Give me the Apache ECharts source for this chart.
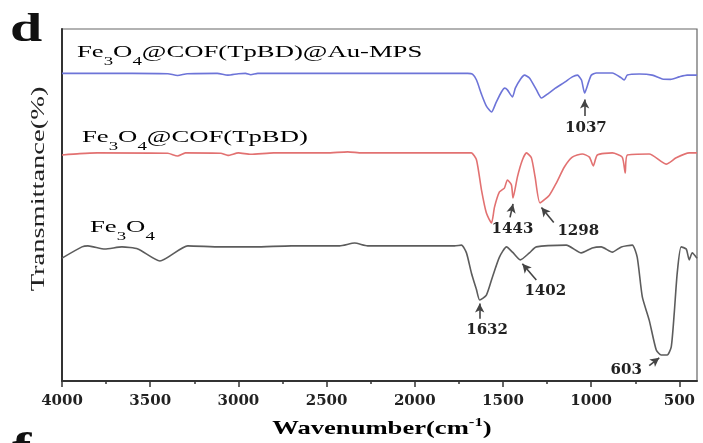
<!DOCTYPE html>
<html>
<head>
<meta charset="utf-8">
<script src="https://cdn.jsdelivr.net/npm/echarts@6/dist/echarts.min.js"></script>
<style>
  html, body { margin: 0; padding: 0; background: #fff; }
  #chart { width: 703px; height: 443px; }
</style>
</head>
<body>
<div id="chart"></div>
<script>
// FT-IR spectra, wavenumber (cm-1) vs. transmittance (stacked, arbitrary offset units)
const majorTicks = [4000, 3500, 3000, 2500, 2000, 1500, 1000, 500];
const minorTicks = [3750, 3250, 2750, 2250, 1750, 1250, 750];

const feCofAu = [
  [4000, 87.4], [3600, 87.4], [3400, 87.3], [3345, 86.8], [3290, 87.3], [3120, 87.4],
  [3060, 86.9], [3000, 87.3], [2960, 87.4], [2930, 87.0], [2890, 87.4], [2500, 87.4],
  [2000, 87.4], [1700, 87.4], [1673, 87.2], [1650, 85.5], [1622, 81.5], [1594, 78.1],
  [1565, 76.4], [1540, 79.0], [1509, 82.1], [1490, 83.2], [1475, 82.7], [1446, 80.7],
  [1430, 83.2], [1400, 85.8], [1378, 86.9], [1350, 86.1], [1310, 82.7], [1282, 80.4],
  [1240, 81.8], [1203, 83.2], [1150, 84.9], [1107, 86.4], [1078, 86.9], [1055, 85.5],
  [1037, 81.8], [1015, 84.9], [999, 86.9], [971, 87.5], [880, 87.5], [829, 86.1],
  [812, 85.5], [795, 86.9], [727, 87.2], [654, 86.9], [597, 85.8], [550, 85.7],
  [501, 86.4], [456, 86.9], [400, 86.9]
];

const feCof = [
  [4000, 64.2], [3900, 64.6], [3800, 64.8], [3400, 64.7], [3345, 63.9], [3300, 64.8],
  [3100, 64.7], [3060, 64.1], [3000, 64.8], [2930, 64.4], [2800, 64.8], [2500, 64.8],
  [2380, 65.1], [2300, 64.8], [1700, 64.8], [1679, 64.8], [1650, 62.8], [1622, 54.3],
  [1594, 47.7], [1565, 44.9], [1548, 49.4], [1520, 53.7], [1492, 54.8], [1475, 57.1],
  [1452, 55.7], [1443, 52.0], [1418, 58.0], [1390, 62.8], [1367, 64.8], [1339, 63.4],
  [1318, 58.0], [1290, 50.6], [1237, 52.8], [1197, 56.3], [1152, 60.8], [1107, 63.6],
  [1050, 64.5], [1010, 63.6], [988, 61.1], [965, 64.2], [880, 64.8], [824, 63.6],
  [807, 59.1], [795, 64.2], [671, 64.5], [575, 61.6], [518, 63.4], [444, 64.8], [400, 64.8]
];

const fe3o4 = [
  [4000, 34.9], [3887, 38.1], [3853, 38.4], [3757, 37.5], [3660, 38.1], [3570, 37.5],
  [3445, 34.1], [3287, 38.4], [3100, 38.1], [2907, 38.1], [2700, 38.4], [2528, 38.4],
  [2426, 38.4], [2341, 39.2], [2267, 38.4], [1775, 38.4], [1735, 38.6], [1707, 36.4],
  [1679, 30.7], [1650, 25.9], [1632, 23.0], [1594, 24.4], [1560, 29.5], [1520, 35.2],
  [1480, 38.1], [1446, 36.6], [1402, 34.4], [1350, 36.4], [1311, 38.1], [1141, 38.6],
  [1056, 36.4], [994, 37.8], [943, 38.1], [880, 36.6], [829, 38.1], [767, 38.6],
  [739, 35.2], [710, 23.9], [671, 17.3], [631, 8.8], [603, 7.4], [569, 7.4],
  [546, 9.7], [529, 19.3], [512, 30.7], [490, 38.1], [461, 37.5], [444, 34.4],
  [427, 36.4], [400, 34.9]
];

// Peak assignments shown with arrows, per spectrum
const peaksAu = ['1037'];
const peaksCof = ['1443', '1298'];
const peaksFe = ['1632', '1402', '603'];

// Arrow tip / tail and label anchor for each peak (data coordinates)
const annotationLayout = {
  '1037': { tip: [1037, 80.0], tail: [1037, 75.3], text: [1030, 71.9] },
  '1443': { tip: [1443, 50.3], tail: [1460, 46.5], text: [1446, 43.2] },
  '1298': { tip: [1282, 49.3], tail: [1212, 45.0], text: [1073, 42.6] },
  '1402': { tip: [1390, 33.3], tail: [1311, 28.7], text: [1260, 25.6] },
  '1632': { tip: [1632, 22.0], tail: [1632, 17.7], text: [1590, 14.5] },
  '603':  { tip: [614, 6.6],   tail: [671, 4.4],   text: [801, 3.1] }
};

const serif = '"Liberation Serif", "Times New Roman", serif';
const wideSerif = '"DejaVu Serif", serif';

function arrows(peaks) {
  return {
    silent: true,
    symbol: ['none', 'arrow'],
    symbolSize: [7, 9],
    lineStyle: { color: '#444', width: 1.6, type: 'solid' },
    label: { show: false },
    emphasis: { disabled: true },
    data: peaks.map(p => [
      { coord: annotationLayout[p].tail },
      { coord: annotationLayout[p].tip }
    ])
  };
}

function peakTexts(peaks) {
  return {
    silent: true,
    symbol: 'circle',
    symbolSize: 0,
    label: {
      show: true,
      position: 'inside',
      formatter: p => p.name,
      color: '#222',
      fontFamily: wideSerif,
      fontWeight: 'bold',
      fontSize: 15
    },
    data: peaks.map(p => ({ name: p, coord: annotationLayout[p].text }))
  };
}

function spectrum(name, data, color, peaks) {
  return {
    name: name,
    type: 'line',
    data: data,
    showSymbol: false,
    smooth: 0.2,
    lineStyle: { color: color, width: 1.6 },
    itemStyle: { color: color },
    markLine: arrows(peaks),
    markPoint: peakTexts(peaks),
    z: 3
  };
}

// Formula text with subscripts, horizontally widened
const formulaRich = {
  n: { fontFamily: serif, fontSize: 17, lineHeight: 30, verticalAlign: 'middle', color: '#2b2b2b' },
  s: { fontFamily: serif, fontSize: 12, lineHeight: 12, verticalAlign: 'bottom', color: '#2b2b2b' }
};
function formulaLabel(x, y, text) {
  return {
    type: 'text', x: x, y: y, scaleX: 1.57,
    style: { text: text, rich: formulaRich, align: 'left', verticalAlign: 'top' }
  };
}

const chart = echarts.init(document.getElementById('chart'), null, { renderer: 'canvas' });

chart.setOption({
  animation: false,
  backgroundColor: '#fff',
  grid: { left: 62, right: 6, top: 29, bottom: 62, show: true, borderColor: '#666', borderWidth: 1.2 },
  xAxis: [
    {
      type: 'value', min: 400, max: 4000, inverse: true,
      axisLine: { show: true, onZero: false, lineStyle: { color: '#333', width: 2 } },
      axisTick: { show: true, inside: false, length: 6, customValues: majorTicks, lineStyle: { color: '#333', width: 1.5 } },
      axisLabel: {
        customValues: majorTicks, formatter: v => String(v),
        color: '#222', fontFamily: wideSerif, fontWeight: 'bold', fontSize: 15, margin: 13
      },
      splitLine: { show: false }
    },
    {
      type: 'value', min: 400, max: 4000, inverse: true, position: 'bottom',
      axisLine: { show: false },
      axisTick: { show: true, length: 3, customValues: minorTicks, lineStyle: { color: '#333', width: 1.5 } },
      axisLabel: { show: false },
      splitLine: { show: false }
    }
  ],
  yAxis: {
    type: 'value', min: 0, max: 100,
    axisLine: { show: true, onZero: false, lineStyle: { color: '#333', width: 2 } },
    axisTick: { show: false },
    axisLabel: { show: false },
    splitLine: { show: false }
  },
  series: [
    spectrum('Fe3O4@COF(TpBD)@Au-MPS', feCofAu, '#6d74d8', peaksAu),
    spectrum('Fe3O4@COF(TpBD)', feCof, '#e27171', peaksCof),
    spectrum('Fe3O4', fe3o4, '#5c5c5c', peaksFe)
  ],
  graphic: [
    { type: 'text', x: 10, y: 11, scaleX: 1.45, style: { text: 'd', font: 'bold 40px ' + serif, fill: '#111' } },
    { type: 'text', x: 12, y: 430, scaleX: 1.45, style: { text: 'f', font: 'bold 40px ' + serif, fill: '#111' } },
    {
      type: 'text', x: 39, y: 189, rotation: Math.PI / 2, scaleX: 1.5,
      style: { text: 'Transmittance(%)', font: '19px ' + serif, fill: '#222', align: 'center', verticalAlign: 'middle' }
    },
    {
      type: 'text', x: 382, y: 429, scaleX: 1.4,
      style: {
        text: '{n|Wavenumber(cm}{p|-1}{n|)}', align: 'center', verticalAlign: 'middle',
        rich: {
          n: { fontFamily: serif, fontSize: 19, fontWeight: 'bold', lineHeight: 24, verticalAlign: 'middle', color: '#222' },
          p: { fontFamily: serif, fontSize: 12, fontWeight: 'bold', lineHeight: 10, verticalAlign: 'top', color: '#222' }
        }
      }
    },
    formulaLabel(77, 38, '{n|Fe}{s|3}{n|O}{s|4}{n|@COF(TpBD)@Au-MPS}'),
    formulaLabel(82, 123, '{n|Fe}{s|3}{n|O}{s|4}{n|@COF(TpBD)}'),
    formulaLabel(90, 213, '{n|Fe}{s|3}{n|O}{s|4}')
  ]
});
</script>
</body>
</html>
